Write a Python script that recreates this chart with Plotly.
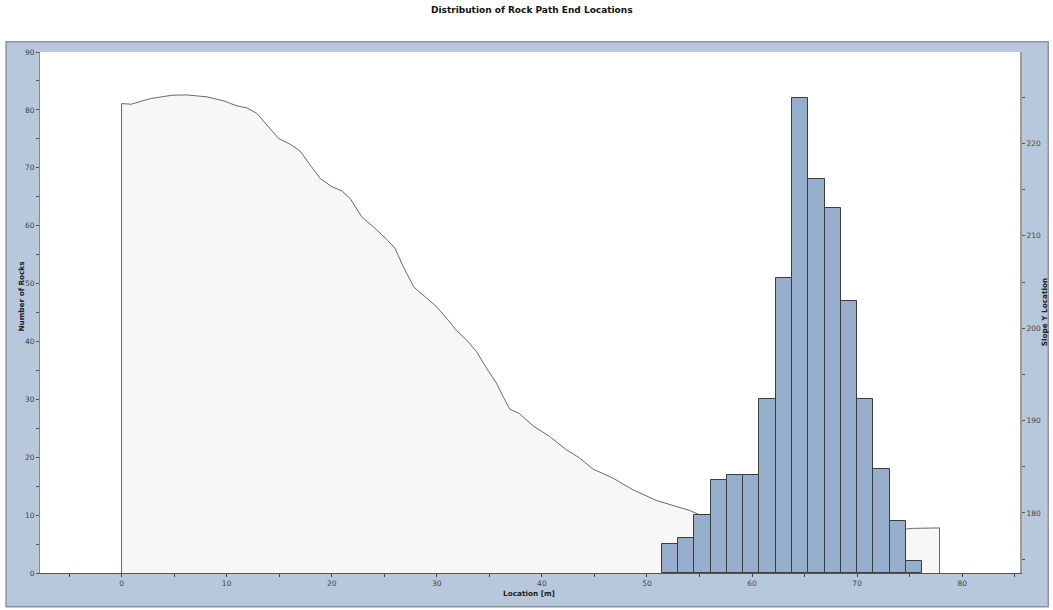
import plotly.graph_objects as go

# ---- data ----
bin_centers = [52.175, 53.725, 55.275, 56.825, 58.375, 59.925, 61.475, 63.025,
               64.575, 66.125, 67.675, 69.225, 70.775, 72.325, 73.875, 75.425]
rock_counts = [5, 6, 10, 16, 17, 17, 30, 51, 82, 68, 63, 47, 30, 18, 9, 2]
bin_width = 1.55

slope_x = [0.0, 0.92, 2.75, 4.81, 6.24, 8.14, 9.72, 10.99, 11.94, 12.89, 13.84,
           14.94, 16.05, 17.0, 17.95, 18.9, 20.01, 20.96, 21.75, 22.86, 23.96,
           25.23, 26.02, 26.81, 27.83, 28.87, 29.91, 30.93, 31.88, 32.83, 33.78,
           34.73, 35.68, 36.31, 36.94, 37.89, 39.15, 40.74, 42.33, 43.59, 44.85,
           46.75, 48.65, 50.87, 52.77, 54.04, 54.99, 74.7, 75.24, 77.84]
slope_y = [224.32, 224.25, 224.86, 225.22, 225.25, 225.04, 224.61, 224.06, 223.85,
           223.24, 221.98, 220.54, 219.92, 219.17, 217.66, 216.22, 215.31, 214.88,
           214.05, 212.06, 210.98, 209.62, 208.65, 206.66, 204.43, 203.42, 202.41,
           201.08, 199.74, 198.73, 197.47, 195.68, 194.05, 192.61, 191.24, 190.74,
           189.44, 188.28, 186.84, 185.95, 184.76, 183.78, 182.52, 181.36, 180.71,
           180.28, 179.82, 178.27, 178.33, 178.38]

title_text = "Distribution of Rock Path End Locations"
x_title = "Location [m]"
y_title = "Number of Rocks"
y2_title = "Slope Y Location"

x_range = [-7.76, 85.5]
count_range = [0, 90]
slope_range = [173.5, 229.9]

FONT = "DejaVu Sans"
W, H = 1053, 610
ML, MR, MT, MB = 39.5, 31.3, 51.7, 36.7

fig = go.Figure()

base = slope_range[0]
fig.add_trace(go.Scatter(
    x=[slope_x[0]] + slope_x + [slope_x[-1]],
    y=[base] + slope_y + [base],
    mode="lines", fill="toself", fillcolor="#f7f7f7",
    line=dict(color="#6a6a6a", width=1),
    yaxis="y", hoverinfo="skip", showlegend=False))

fig.add_trace(go.Bar(
    x=bin_centers, y=rock_counts, width=[bin_width] * len(bin_centers),
    marker=dict(color="#95aecc", line=dict(color="#3c3c3c", width=1)),
    yaxis="y2", showlegend=False))

pw = W - ML - MR
ph = H - MT - MB


def px_to_paper_x(px):
    return (px - ML) / pw


def py_to_paper_y(py):
    return (H - MB - py) / ph


tickfont = dict(family=FONT, size=7.5, color="#444444")

fig.update_layout(
    width=W, height=H,
    margin=dict(l=ML, r=MR, t=MT, b=MB, pad=0),
    paper_bgcolor="white", plot_bgcolor="white",
    bargap=0,
    xaxis=dict(range=x_range, tickmode="linear", tick0=0, dtick=10,
               ticks="outside", ticklen=3, tickcolor="#444", tickwidth=1,
               minor=dict(dtick=5, tick0=0, ticks="outside", ticklen=3, tickcolor="#444"),
               showline=True, linecolor="#555", linewidth=1,
               showgrid=False, zeroline=False, tickfont=tickfont),
    yaxis=dict(range=slope_range, side="right", tickmode="linear", tick0=0, dtick=10,
               ticks="outside", ticklen=3, tickcolor="#555", tickwidth=1,
               minor=dict(dtick=5, tick0=0, ticks="outside", ticklen=3, tickcolor="#555"),
               showline=True, linecolor="#9a9a9a", linewidth=2,
               showgrid=False, zeroline=False, tickfont=tickfont),
    yaxis2=dict(range=count_range, side="left", overlaying="y", tickmode="linear",
                tick0=0, dtick=10,
                ticks="outside", ticklen=3, tickcolor="#555", tickwidth=1,
                minor=dict(dtick=5, tick0=0, ticks="outside", ticklen=3, tickcolor="#555"),
                showline=True, linecolor="#888", linewidth=1,
                showgrid=False, zeroline=False, tickfont=tickfont),
    shapes=[
        dict(type="rect", xref="paper", yref="paper", layer="below",
             x0=px_to_paper_x(5.5), x1=px_to_paper_x(1050), y0=py_to_paper_y(607),
             y1=py_to_paper_y(41.5), fillcolor="#b7c8dd",
             line=dict(color="#8d949c", width=1.5)),
        dict(type="rect", xref="paper", yref="paper", layer="below",
             x0=0, x1=1, y0=0, y1=1, fillcolor="white", line=dict(width=0)),
    ],
    annotations=[
        dict(text="<b>" + title_text + "</b>", xref="paper", yref="paper",
             x=px_to_paper_x(533), y=py_to_paper_y(10), showarrow=False,
             xanchor="center", yanchor="middle",
             font=dict(family=FONT, size=9, color="#111")),
        dict(text="<b>" + x_title + "</b>", xref="paper", yref="paper",
             x=px_to_paper_x(530), y=py_to_paper_y(594), showarrow=False,
             xanchor="center", yanchor="middle",
             font=dict(family=FONT, size=7.3, color="#222")),
        dict(text="<b>" + y_title + "</b>", xref="paper", yref="paper",
             x=px_to_paper_x(20), y=py_to_paper_y(297), showarrow=False,
             textangle=-90, xanchor="center", yanchor="middle",
             font=dict(family=FONT, size=7.3, color="#222")),
        dict(text="<b>" + y2_title + "</b>", xref="paper", yref="paper",
             x=px_to_paper_x(1046), y=py_to_paper_y(312), showarrow=False,
             textangle=-90, xanchor="center", yanchor="middle",
             font=dict(family=FONT, size=7.3, color="#222")),
    ],
)

fig.write_html(
    "out.html",
    config={"displayModeBar": False},
    post_script="document.body.style.margin='0';document.body.style.overflow='hidden';",
)
